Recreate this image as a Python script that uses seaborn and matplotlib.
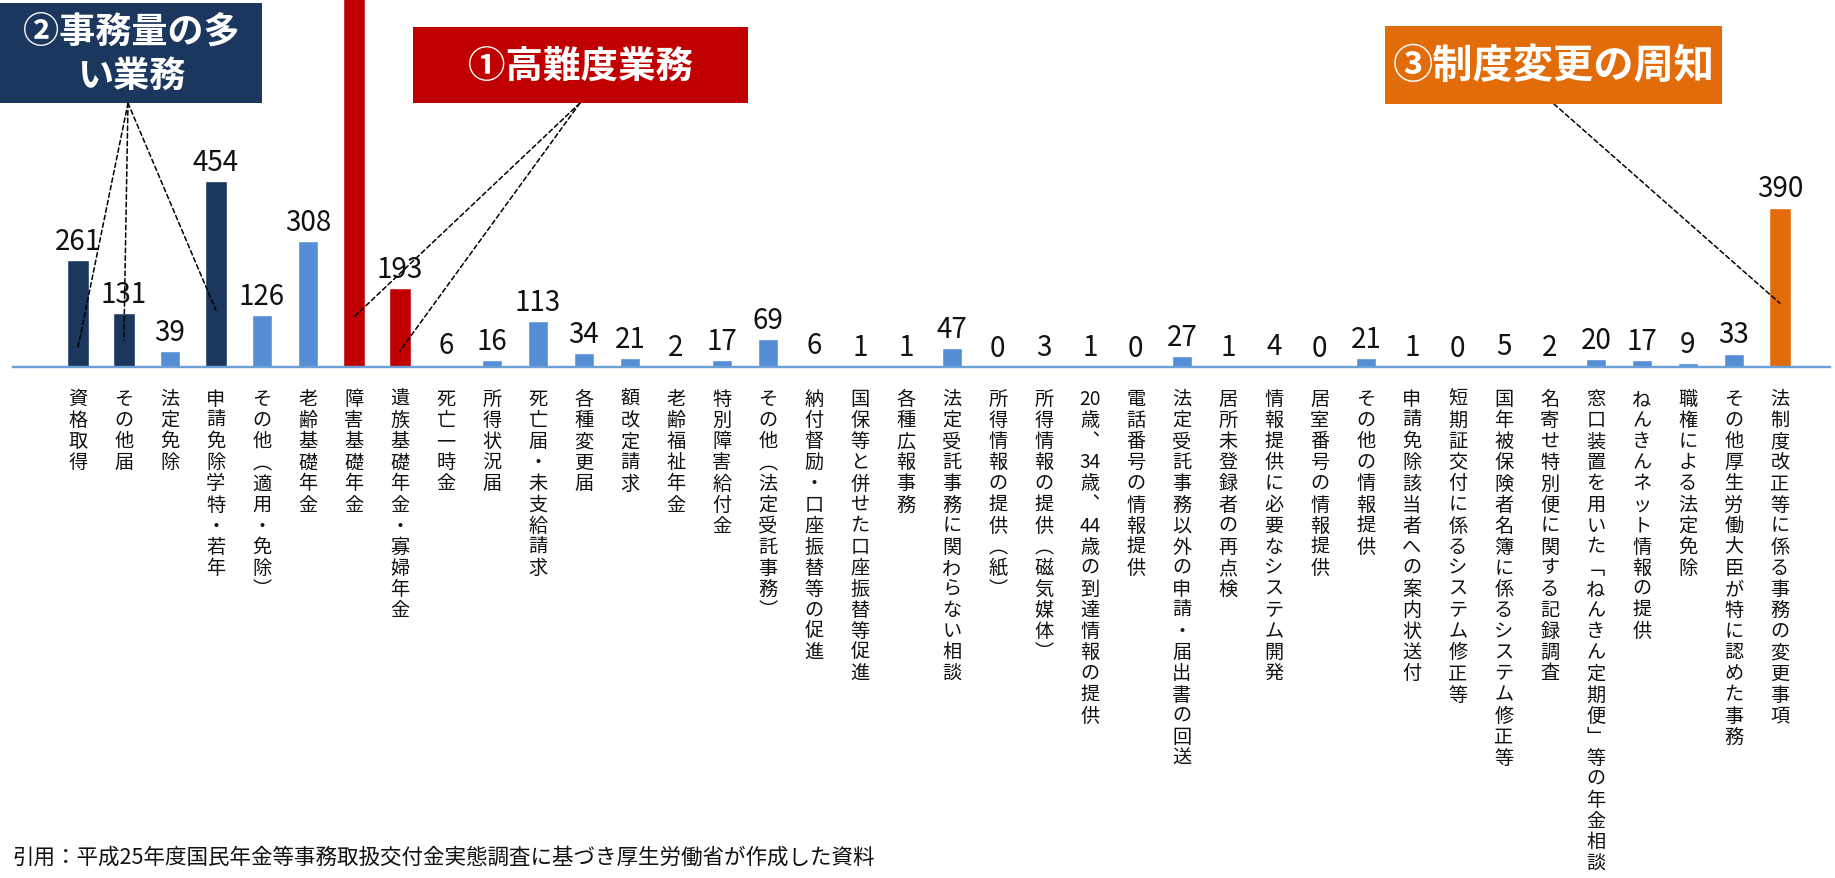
import re

import matplotlib
matplotlib.use("Agg")
import matplotlib.pyplot as plt
import pandas as pd
import seaborn as sns
from matplotlib.patches import Rectangle

# ---- data -----------------------------------------------------------------
categories = [
    "資格取得", "その他届", "法定免除", "申請免除学特・若年", "その他(適用・免除)",
    "老齢基礎年金", "障害基礎年金", "遺族基礎年金・寡婦年金", "死亡一時金", "所得状況届",
    "死亡届・未支給請求", "各種変更届", "額改定請求", "老齢福祉年金", "特別障害給付金",
    "その他(法定受託事務)", "納付督励・口座振替等の促進", "国保等と併せた口座振替等促進",
    "各種広報事務", "法定受託事務に関わらない相談", "所得情報の提供(紙)",
    "所得情報の提供(磁気媒体)", "20歳、34歳、44歳の到達情報の提供", "電話番号の情報提供",
    "法定受託事務以外の申請・届出書の回送", "居所未登録者の再点検", "情報提供に必要なシステム開発",
    "居室番号の情報提供", "その他の情報提供", "申請免除該当者への案内状送付",
    "短期証交付に係るシステム修正等", "国年被保険者名簿に係るシステム修正等",
    "名寄せ特別便に関する記録調査", "窓口装置を用いた「ねんきん定期便」等の年金相談",
    "ねんきんネット情報の提供", "職権による法定免除", "その他厚生労働大臣が特に認めた事務",
    "法制度改正等に係る事務の変更事項",
]
counts = [
    261, 131, 39, 454, 126, 308, 1000, 193, 6, 16,
    113, 34, 21, 2, 17, 69, 6, 1, 1, 47,
    0, 3, 1, 0, 27, 1, 4, 0, 21, 1,
    0, 5, 2, 20, 17, 9, 33, 390,
]
volume_items = ["資格取得", "その他届", "申請免除学特・若年"]
difficulty_items = ["障害基礎年金", "遺族基礎年金・寡婦年金"]
reform_items = ["法制度改正等に係る事務の変更事項"]

box_volume = "②事務量の多\nい業務"
box_difficulty = "①高難度業務"
box_reform = "③制度変更の周知"
source_note = "引用：平成25年度国民年金等事務取扱交付金実態調査に基づき厚生労働省が作成した資料"

# ---- styling ----------------------------------------------------------------
NAVY = "#1b375e"
RED = "#c00000"
ORANGE = "#e36c0a"
LIGHT = "#558ed5"
AXIS_BLUE = "#6a9fd8"

W, H = 1835, 879
sns.set_theme(style="white")
plt.rcParams["font.family"] = ["Noto Sans CJK JP", "DejaVu Sans"]

df = pd.DataFrame({"item": categories, "count": counts})
df["group"] = "other"
df.loc[df["item"].isin(volume_items), "group"] = "volume"
df.loc[df["item"].isin(difficulty_items), "group"] = "difficulty"
df.loc[df["item"].isin(reform_items), "group"] = "reform"

fig = plt.figure(figsize=(W / 100, H / 100), dpi=100)
fig.patch.set_facecolor("white")


def fx(px):
    return px / W


def fy(py):
    return 1 - py / H


ax = fig.add_axes([fx(13), fy(368), fx(1830) - fx(13), 368 / H])

highlight = df[df["group"] != "other"]
sns.barplot(
    data=highlight, x="item", y="count", hue="group", order=categories,
    hue_order=["volume", "difficulty", "reform"],
    palette={"volume": NAVY, "difficulty": RED, "reform": ORANGE},
    dodge=False, width=0.49, saturation=1, legend=False, ax=ax,
)
plain = df[df["group"] == "other"]
sns.barplot(
    data=plain, x="item", y="count", order=categories, color=LIGHT,
    width=0.42, saturation=1, ax=ax,
)

for cont in ax.containers:
    ax.bar_label(cont, fmt="%d", padding=3, fontsize=20, color="#111111")

ax.set_xlim(-1.41, 38.09)
ax.set_ylim(0, 900)
ax.set_xticks([])
ax.set_yticks([])
ax.set_xlabel("")
ax.set_ylabel("")
for side in ("left", "right", "top"):
    ax.spines[side].set_visible(False)
ax.spines["bottom"].set_color(AXIS_BLUE)
ax.spines["bottom"].set_linewidth(1.7)
ax.patch.set_alpha(0)

# ---- vertical category labels (one glyph cell per row) ----------------------
VERT = {"(": "︵", ")": "︶", "、": "︑", "「": "﹁", "」": "﹂"}


def cells(text):
    return [VERT.get(t, t) for t in re.findall(r"\d+|.", text)]


for i, label in enumerate(categories):
    for k, cell in enumerate(cells(label)):
        ax.annotate(
            cell, xy=(i, 0), xycoords="data",
            xytext=(0, -(22.7 + 15.2 * k)), textcoords="offset points",
            ha="center", va="center", fontsize=13.8, color="#111111",
            annotation_clip=False,
        )

# ---- callout boxes ------------------------------------------------------------
def callout(x0, y0, x1, y1, text, color, size):
    fig.patches.append(Rectangle((fx(x0), fy(y1)), fx(x1) - fx(x0), fy(y0) - fy(y1),
                                 transform=fig.transFigure, facecolor=color,
                                 edgecolor="none", zorder=5))
    fig.text(fx((x0 + x1) / 2), fy((y0 + y1) / 2), text, ha="center", va="center",
             color="white", fontsize=size, fontweight="bold", linespacing=1.25,
             zorder=6)


callout(0, 4, 262, 104, box_volume, NAVY, 26)
callout(413, 28, 748, 104, box_difficulty, RED, 27)
callout(1385, 27, 1722, 105, box_reform, ORANGE, 29)

leaders = [
    ((128, 104), (categories.index("資格取得"), 46)),
    ((128, 104), (categories.index("その他届"), 66)),
    ((128, 104), (categories.index("申請免除学特・若年"), 139)),
    ((580, 104), (categories.index("障害基礎年金"), 122)),
    ((580, 104), (categories.index("遺族基礎年金・寡婦年金"), 39)),
    ((1554, 105), (categories.index("法制度改正等に係る事務の変更事項"), 156)),
]
for (px, py), target in leaders:
    ax.annotate(
        "", xy=target, xycoords="data", xytext=(fx(px), fy(py)),
        textcoords="figure fraction",
        arrowprops=dict(arrowstyle="-", linestyle=(0, (3, 2)), lw=1.1,
                        color="black", shrinkA=0, shrinkB=0),
    )

fig.text(fx(12), fy(858), source_note, ha="left", va="center", fontsize=15.5,
         color="#111111")

fig.savefig("out.png", dpi=100, facecolor="white")
